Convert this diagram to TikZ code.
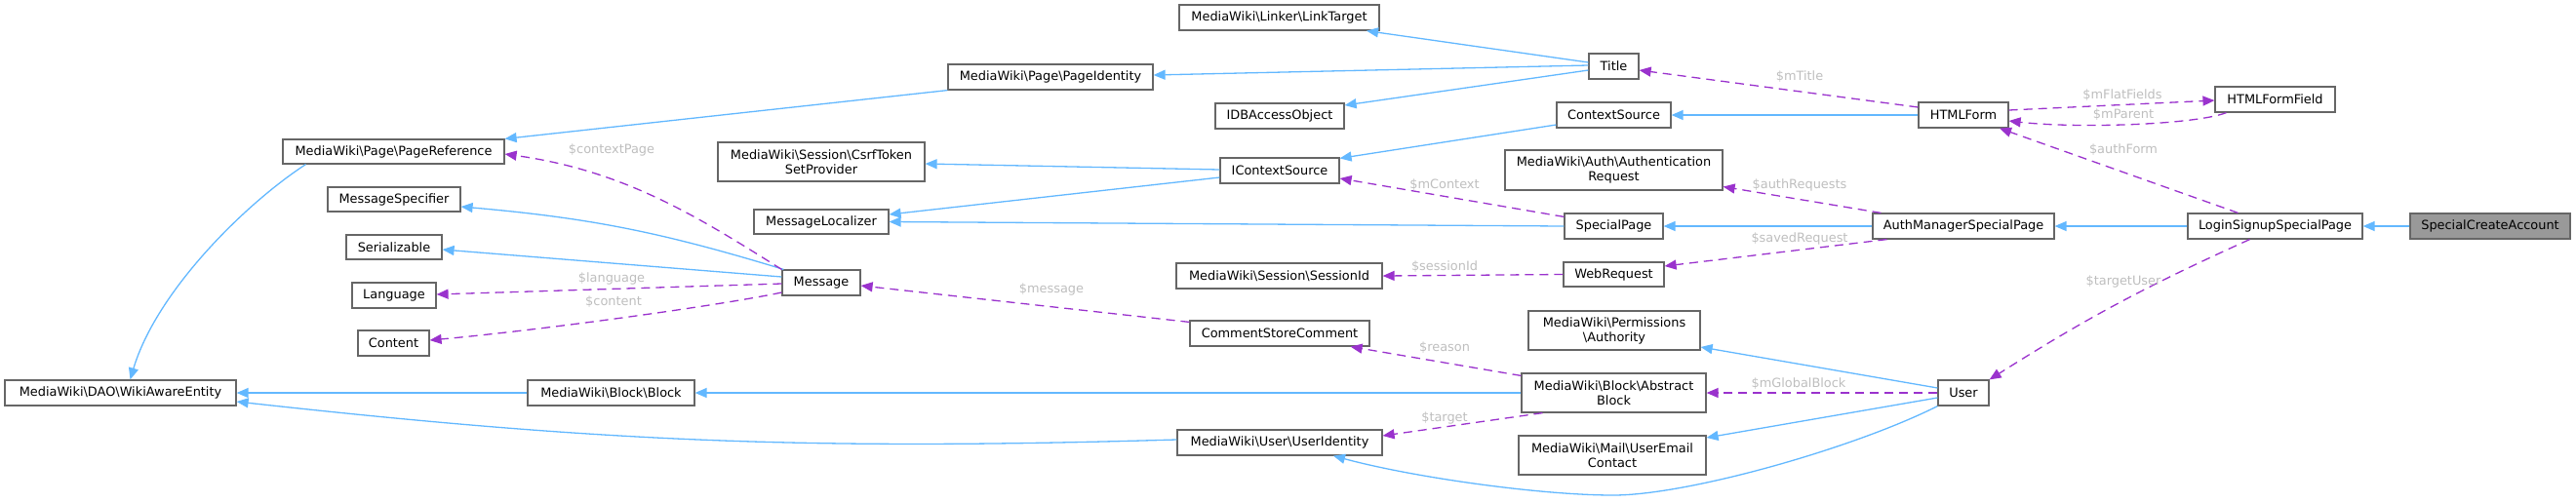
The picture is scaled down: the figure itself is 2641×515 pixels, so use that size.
\documentclass[tikz,border=0pt]{standalone}
\usepackage{fontspec}
\newfontfamily\dvs{DejaVu Sans}
\usetikzlibrary{arrows.meta}
\definecolor{boxgray}{HTML}{666666}
\definecolor{inhblue}{HTML}{63B8FF}
\definecolor{usepurple}{HTML}{9A32CD}
\definecolor{lblgray}{HTML}{BEBEBE}
\definecolor{selfill}{HTML}{999999}
\newcommand\mkbox[6][]{\node[cls,minimum width=#4pt,minimum height=#5pt,#1] (#2) at (#3) {#6};}
\newcommand\bs{\textbackslash}
\tikzset{
  cls/.style={draw=boxgray, line width=1.2pt, fill=white, inner sep=0pt, align=center,
    font=\dvs\fontsize{12.9pt}{15pt}\selectfont, text=black},
  inh/.style={draw=inhblue, line width=1.3pt, -{Triangle[length=12pt,width=10pt]}},
  use/.style={draw=usepurple, line width=1.3pt, dash pattern=on 9pt off 6pt, -{Triangle[length=12pt,width=10pt]}},
  lbl/.style={text=lblgray, inner sep=0pt, font=\dvs\fontsize{12.9pt}{15pt}\selectfont}
}
\begin{document}
\begin{tikzpicture}[x=1pt,y=-1pt]
\useasboundingbox (0,0) rectangle (2641,515);
% nodes
\mkbox{wae}{123.5,403}{237}{26}{MediaWiki\bs DAO\bs WikiAwareEntity}
\mkbox{pref}{403.5,155.5}{227}{25}{MediaWiki\bs Page\bs PageReference}
\mkbox{mspec}{404,204.5}{136}{25}{MessageSpecifier}
\mkbox{ser}{404,253.5}{98}{25}{Serializable}
\mkbox{lang}{404,303}{86}{26}{Language}
\mkbox{cont}{403.5,352}{73}{26}{Content}
\mkbox{csrf}{842,166}{212}{40}{MediaWiki\bs Session\bs CsrfToken\\SetProvider}
\mkbox{mloc}{842,227.5}{138}{25}{MessageLocalizer}
\mkbox{msg}{842,290}{80}{26}{Message}
\mkbox{blk}{626.5,403}{171}{26}{MediaWiki\bs Block\bs Block}
\mkbox{ltarget}{1311.5,18}{205}{26}{MediaWiki\bs Linker\bs LinkTarget}
\mkbox{pid}{1077,79}{210}{26}{MediaWiki\bs Page\bs PageIdentity}
\mkbox{idb}{1312,119}{132}{26}{IDBAccessObject}
\mkbox{ics}{1312,175}{122}{26}{IContextSource}
\mkbox{sid}{1311.5,283}{211}{26}{MediaWiki\bs Session\bs SessionId}
\mkbox{csc}{1312,342}{184}{26}{CommentStoreComment}
\mkbox{uid}{1312,454}{210}{26}{MediaWiki\bs User\bs UserIdentity}
\mkbox{title}{1654.5,68}{51}{26}{Title}
\mkbox{csrc}{1654.5,118}{117}{26}{ContextSource}
\mkbox{authreq}{1654.5,174.5}{223}{41}{MediaWiki\bs Auth\bs Authentication\\Request}
\mkbox{sp}{1654.5,232}{101}{26}{SpecialPage}
\mkbox{wr}{1654.5,281.5}{103}{25}{WebRequest}
\mkbox{authz}{1655,339}{176}{40}{MediaWiki\bs Permissions\\\bs Authority}
\mkbox{ab}{1654.5,403}{189}{40}{MediaWiki\bs Block\bs Abstract\\Block}
\mkbox{uec}{1653,467}{192}{40}{MediaWiki\bs Mail\bs UserEmail\\Contact}
\mkbox{hf}{2013,118}{92}{26}{HTMLForm}
\mkbox{amsp}{2013,232}{186}{26}{AuthManagerSpecialPage}
\mkbox{user}{2013,403}{52}{26}{User}
\mkbox{hff}{2332.5,102}{123}{26}{HTMLFormField}
\mkbox{lssp}{2332.5,232}{179}{26}{LoginSignupSpecialPage}
\mkbox[fill=selfill]{sca}{2553,232}{164}{26}{SpecialCreateAccount}
% inheritance
\draw[inh] ([xshift=-90pt]pref.south) .. controls (250,210) and (160,300) .. ([xshift=10pt]wae.north);
\draw[inh] (pid.south west) -- (pref.north east);
\draw[inh] ([yshift=4pt]title.west) -- ([xshift=89.5pt]ltarget.south);
\draw[inh] ([yshift=1pt]title.west) -- ([yshift=2pt]pid.east);
\draw[inh] ([yshift=-4pt]title.west) -- ([yshift=11pt]idb.east);
\draw[inh] ([yshift=-10pt]csrc.west) -- ([yshift=-1pt]ics.north east);
\draw[inh] ([yshift=1pt]ics.west) -- ([yshift=-2pt]csrf.east);
\draw[inh] ([yshift=-7pt]ics.west) -- ([yshift=7.5pt]mloc.east);
\draw[inh] (sp.west) -- (mloc.east);
\draw[inh] (hf.west) -- (csrc.east);
\draw[inh] (amsp.west) -- (sp.east);
\draw[inh] (lssp.west) -- (amsp.east);
\draw[inh] (sca.west) -- (lssp.east);
\draw[inh] ([xshift=2pt]msg.north west) to[bend right=6] ([yshift=-7.5pt]mspec.east);
\draw[inh] ([yshift=6pt]msg.west) -- ([yshift=-2.5pt]ser.east);
\draw[inh] (blk.west) -- (wae.east);
\draw[inh] (ab.west) -- (blk.east);
\draw[inh] ([yshift=3pt]uid.west) to[bend left=4] ([yshift=-9pt]wae.east);
\draw[inh] ([yshift=5pt]user.west) -- ([yshift=-17pt]authz.east);
\draw[inh] ([yshift=-5pt]user.west) -- ([yshift=18pt]uec.east);
\draw[inh] (user.south west) .. controls (1900,460) and (1730,508) .. (1654,508)
  .. controls (1580,508) and (1450,490) .. ([xshift=55pt]uid.south);
% usage
\draw[use] (msg.north west) .. controls (715,222) and (640,175) .. ([yshift=-2.5pt]pref.east);
\draw[use] ([yshift=-1pt]msg.west) -- ([yshift=1pt]lang.east);
\draw[use] ([yshift=-10pt]msg.west) .. controls (740,313) and (560,338) .. ([yshift=3pt]cont.east);
\draw[use] ([yshift=-2pt]csc.north west) -- ([yshift=-3pt]msg.east);
\draw[use] ([yshift=-4pt]sp.north west) -- ([yshift=-8pt]ics.east);
\draw[use] ([yshift=8pt]hf.west) -- ([yshift=-4pt]title.east);
\draw[use] ([yshift=5pt]hf.east) -- ([yshift=-1pt]hff.west);
\draw[use] ([xshift=-50pt]hff.south) .. controls (2250,128) and (2130,132) .. ([yshift=-6pt]hf.east);
\draw[use] ([xshift=-38pt]lssp.north) -- ([xshift=37pt]hf.south);
\draw[use] ([xshift=9pt]amsp.north west) -- ([yshift=-17pt]authreq.east);
\draw[use] ([xshift=15pt]amsp.south west) -- ([yshift=8.5pt]wr.east);
\draw[use] (wr.west) -- (sid.east);
\draw[use] ([yshift=-3pt]ab.north west) -- ([xshift=-20pt]csc.south east);
\draw[use] ([xshift=22pt]ab.south west) -- ([yshift=7pt]uid.east);
\draw[use] (user.west) -- (ab.east);
\draw[use] ([xshift=-26pt]lssp.south) to[bend right=4] (user.north east);
% labels
\node[lbl] (l1) at (627,154) {\$contextPage};
\node[lbl] (l2) at (627,286) {\$language};
\node[lbl] (l3) at (629,310) {\$content};
\node[lbl] (l4) at (1078,297) {\$message};
\node[lbl] (l5) at (1481,190) {\$mContext};
\node[lbl] (l6) at (1845,79) {\$mTitle};
\node[lbl] (l7) at (2176,98) {\$mFlatFields};
\node[lbl] (l8) at (2177,118) {\$mParent};
\node[lbl] (l9) at (2177,154) {\$authForm};
\node[lbl] (l10) at (1845,190) {\$authRequests};
\node[lbl] (l11) at (1845,245) {\$savedRequest};
\node[lbl] (l12) at (1481,274) {\$sessionId};
\node[lbl] (l13) at (1481,357) {\$reason};
\node[lbl] (l14) at (1481,429) {\$target};
\node[lbl] (l15) at (1844,394) {\$mGlobalBlock};
\node[lbl] (l16) at (2177,289) {\$targetUser};
\end{tikzpicture}
\end{document}
